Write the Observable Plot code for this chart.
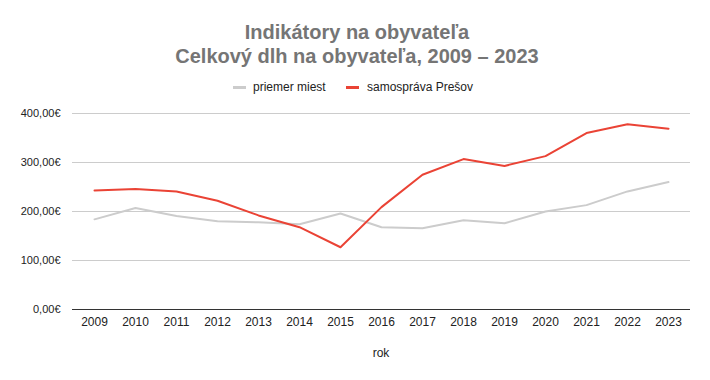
<!DOCTYPE html>
<html>
<head>
<meta charset="utf-8">
<script src="https://cdn.jsdelivr.net/npm/d3@7"></script>
<script src="https://cdn.jsdelivr.net/npm/@observablehq/plot@0.6"></script>
<style>
  html, body { margin: 0; padding: 0; background: #fff; }
  #wrap { position: relative; width: 710px; height: 380px; font-family: "Liberation Sans", Arial, sans-serif; }
  .title { position: absolute; left: 0; width: 714px; text-align: center; font-weight: bold; font-size: 20px; line-height: 24px; color: #757575; white-space: nowrap; }
  .leg { position: absolute; font-size: 12px; line-height: 14px; color: #222; white-space: nowrap; }
  .sw { position: absolute; width: 13px; height: 3px; }
  #xlabel { position: absolute; left: 0; width: 762px; text-align: center; font-size: 12px; line-height: 14px; color: #222; }
  #chart { position: absolute; left: 0; top: 0; }
</style>
</head>
<body>
<div id="wrap">
  <div id="chart"></div>
  <div class="title" style="top:20px">Indikátory na obyvateľa</div>
  <div class="title" style="top:44px">Celkový dlh na obyvateľa, 2009 – 2023</div>
  <div class="sw" style="left:233px; top:86px; background:#cccccc"></div>
  <div class="leg" style="left:253px; top:80px">priemer miest</div>
  <div class="sw" style="left:346px; top:86px; background:#ea4335"></div>
  <div class="leg" style="left:367px; top:80px">samospráva Prešov</div>
  <div id="xlabel" style="top:346px">rok</div>
</div>
<script>
const years = [2009, 2010, 2011, 2012, 2013, 2014, 2015, 2016, 2017, 2018, 2019, 2020, 2021, 2022, 2023];
const priemerMiest = [184, 207, 191, 180, 178, 174, 196, 168, 166, 182, 176, 200, 213, 241, 260];
const samospravaPresov = [243, 246, 241, 222, 192, 168, 127, 209, 275, 307, 293, 313, 360, 378, 369];
const seriesNames = ["priemer miest", "samospráva Prešov"];
const seriesColors = ["#cccccc", "#ea4335"];
const yTicks = [0, 100, 200, 300, 400];

const rows = [];
years.forEach((y, i) => {
  rows.push({ rok: y, hodnota: priemerMiest[i], seria: seriesNames[0] });
});
years.forEach((y, i) => {
  rows.push({ rok: y, hodnota: samospravaPresov[i], seria: seriesNames[1] });
});

const fmt = d => d.toFixed(2).replace(".", ",") + "€";

const chart = Plot.plot({
  width: 710,
  height: 380,
  marginTop: 113,
  marginBottom: 71,
  marginLeft: 72,
  marginRight: 20,
  style: { fontFamily: "'Liberation Sans', Arial, sans-serif", color: "#222", background: "transparent" },
  x: { type: "point", domain: years, padding: 0.5 },
  y: { domain: [0, 400] },
  color: { domain: seriesNames, range: seriesColors },
  marks: [
    Plot.gridY(yTicks, { stroke: "#cccccc", strokeOpacity: 1 }),
    Plot.axisY(yTicks, { tickSize: 0, tickPadding: 12, tickFormat: fmt, fontSize: 11, label: null }),
    Plot.axisX(years, { tickSize: 0, tickPadding: 8, tickFormat: d => String(d), fontSize: 12, label: null }),
    Plot.line(rows.filter(d => d.seria === seriesNames[0]), { x: "rok", y: "hodnota", stroke: "seria", strokeWidth: 2 }),
    Plot.line(rows.filter(d => d.seria === seriesNames[1]), { x: "rok", y: "hodnota", stroke: "seria", strokeWidth: 2 }),
    Plot.ruleY([0], { stroke: "#333", strokeWidth: 1 })
  ]
});
document.getElementById("chart").appendChild(chart);
</script>
</body>
</html>
